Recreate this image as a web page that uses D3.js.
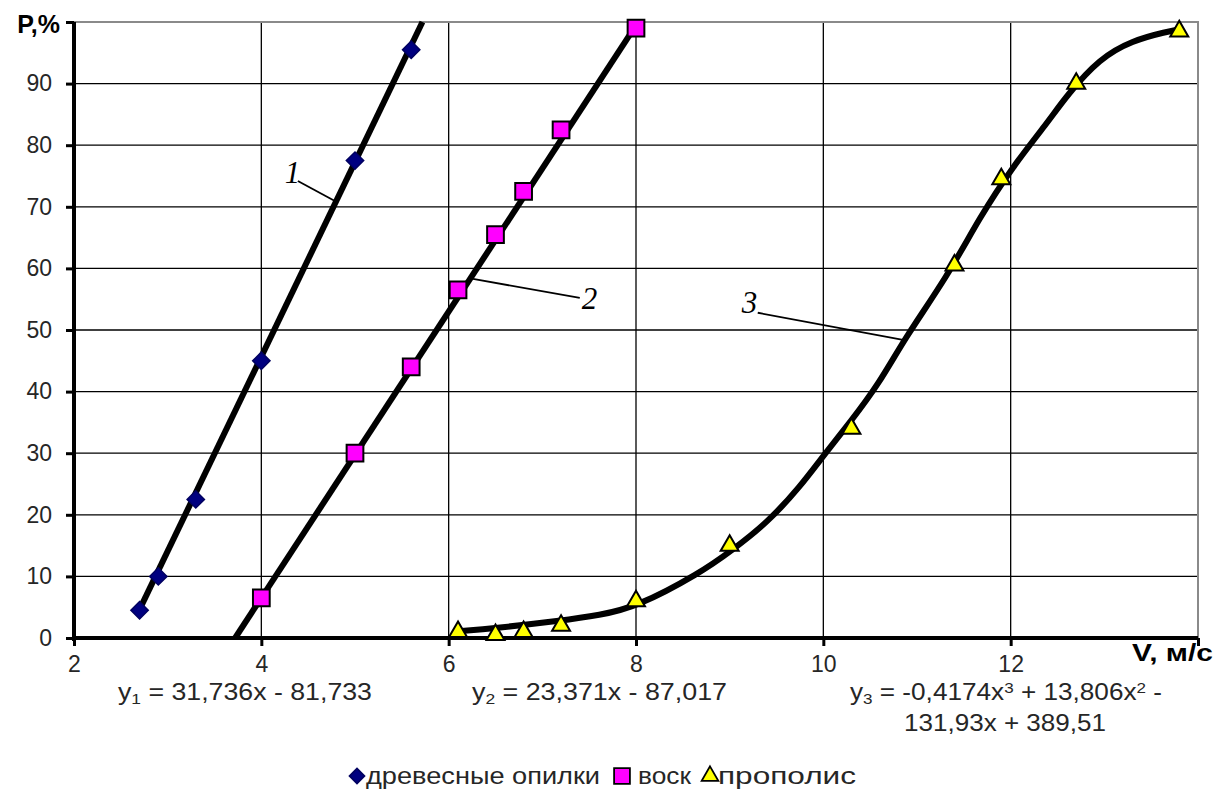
<!DOCTYPE html>
<html>
<head>
<meta charset="utf-8">
<script src="https://cdn.jsdelivr.net/npm/d3@7"></script>
<style>
  body { margin: 0; background: #fff; }
  svg { font-family: "Liberation Sans", Arial, sans-serif; }
</style>
</head>
<body>
<svg id="chart" width="1216" height="792"></svg>
<script>
// data
const sawdustX = [2.7, 2.9, 3.3, 4.0, 5.0, 5.6];
const sawdustY = [4.5, 10, 22.5, 45, 77.5, 95.5];
const waxX = [4.0, 5.0, 5.6, 6.1, 6.5, 6.8, 7.2, 8.0];
const waxY = [6.5, 30, 44, 56.5, 65.5, 72.5, 82.5, 99];
const propolisX = [6.1, 6.5, 6.8, 7.2, 8.0, 9.0, 10.3, 11.4, 11.9, 12.7, 13.8];
const propolisY = [1, 0.5, 1, 2, 6, 15, 34, 60.5, 74.5, 90, 98.5];

// trend lines as drawn in the picture
const trend1X = [2.68, 5.72];
const trend1Y = [4, 100];
const trend2X = [3.72, 7.98];
const trend2Y = [0, 99];
const trend3X = [6.1, 6.5, 7.2, 7.61, 8.0, 8.68, 9.03, 9.4, 9.75, 10.02, 10.28, 10.6, 10.87, 11.32, 11.67, 12.02, 12.39, 12.6, 12.95, 13.3, 13.66, 13.83];
const trend3Y = [1.1, 1.6, 2.8, 3.7, 5.0, 10.5, 14.3, 18.7, 24.5, 30, 34.9, 41.4, 48.7, 58.6, 68.3, 76.5, 83.6, 88.1, 94.1, 97, 98.4, 98.9];

const xTicks = [2, 4, 6, 8, 10, 12, 14];
const yTicks = [0, 10, 20, 30, 40, 50, 60, 70, 80, 90, 100];
const legendNames = ["древесные опилки", "воск", "прополис"];

const svg = d3.select("#chart");
const mLeft = 74, mRight = 1198, mTop = 22, mBottom = 638;

const x = d3.scaleLinear().domain([2, 14]).range([mLeft, mRight]);
const y = d3.scaleLinear().domain([0, 100]).range([mBottom, mTop]);

// grid
svg.append("g").selectAll("line")
    .data(xTicks.slice(1, -1))
    .enter().append("line")
    .attr("x1", d => x(d)).attr("x2", d => x(d))
    .attr("y1", mTop).attr("y2", mBottom)
    .attr("stroke", "#000").attr("stroke-width", 1.3);

svg.append("g").selectAll("line")
    .data(yTicks.slice(1, -1))
    .enter().append("line")
    .attr("x1", mLeft).attr("x2", mRight)
    .attr("y1", d => y(d)).attr("y2", d => y(d))
    .attr("stroke", "#000").attr("stroke-width", 1.3);

// top and right frame, grey
svg.append("path")
    .attr("d", `M${mLeft},${mTop}H${mRight}V${mBottom}`)
    .attr("fill", "none").attr("stroke", "#8a8a8a").attr("stroke-width", 2);

// axes
const xAxis = svg.append("g")
    .attr("transform", `translate(0,${mBottom})`)
    .call(d3.axisBottom(x).tickValues(xTicks).tickSize(8).tickPadding(10)
        .tickFormat(d => d === 14 ? "" : d));
const yAxis = svg.append("g")
    .attr("transform", `translate(${mLeft},0)`)
    .call(d3.axisLeft(y).tickValues(yTicks).tickSize(8).tickPadding(14)
        .tickFormat(d => d === 100 ? "" : d));

[xAxis, yAxis].forEach(g => {
    g.select(".domain").attr("stroke", "#000").attr("stroke-width", 4);
    g.selectAll(".tick line").attr("stroke", "#000").attr("stroke-width", 3);
    g.selectAll(".tick text").attr("font-size", 23).attr("fill", "#262626")
        .attr("font-family", "Liberation Sans, Arial, sans-serif");
});
yAxis.select(".domain").attr("d", `M0,${mTop}V${mBottom + 3}`);
xAxis.select(".domain").attr("d", `M${mLeft - 2},0H${mRight}`);

// axis titles
svg.append("text")
    .attr("x", 60).attr("y", 33)
    .attr("text-anchor", "end")
    .attr("font-size", 25).attr("font-weight", "bold")
    .text("P,%");
svg.append("text")
    .attr("x", 1132).attr("y", 661)
    .attr("font-size", 24).attr("font-weight", "bold")
    .attr("textLength", 81).attr("lengthAdjust", "spacingAndGlyphs")
    .text("V, м/с");

// trend lines
const line = d3.line().x(d => x(d[0])).y(d => y(d[1]));
const zip = (a, b) => a.map((v, i) => [v, b[i]]);

svg.append("path").datum(zip(trend1X, trend1Y))
    .attr("d", line).attr("fill", "none").attr("stroke", "#000").attr("stroke-width", 6);
svg.append("path").datum(zip(trend2X, trend2Y))
    .attr("d", line).attr("fill", "none").attr("stroke", "#000").attr("stroke-width", 6);
svg.append("path").datum(zip(trend3X, trend3Y))
    .attr("d", line.curve(d3.curveBasis)).attr("fill", "none")
    .attr("stroke", "#000").attr("stroke-width", 6);

// markers
const diamond = d3.symbol().type(d3.symbolSquare).size(150);
const square = d3.symbol().type(d3.symbolSquare).size(280);
const triangle = d3.symbol().type(d3.symbolTriangle).size(140);

svg.append("g").selectAll("path")
    .data(zip(sawdustX, sawdustY))
    .enter().append("path")
    .attr("d", diamond)
    .attr("transform", d => `translate(${x(d[0])},${y(d[1])}) rotate(45)`)
    .attr("fill", "#000080").attr("stroke", "#000060").attr("stroke-width", 1.5);

svg.append("g").selectAll("path")
    .data(zip(waxX, waxY))
    .enter().append("path")
    .attr("d", square)
    .attr("transform", d => `translate(${x(d[0])},${y(d[1])})`)
    .attr("fill", "#ff00ff").attr("stroke", "#000").attr("stroke-width", 2);

svg.append("g").selectAll("path")
    .data(zip(propolisX, propolisY))
    .enter().append("path")
    .attr("d", triangle)
    .attr("transform", d => `translate(${x(d[0])},${y(d[1])})`)
    .attr("fill", "#ffff00").attr("stroke", "#000").attr("stroke-width", 2);

// curve labels with leader lines
const labels = [
    { t: "1", tx: 4.25, ty: 73.9, x1: 4.39, y1: 74.2, x2: 4.79, y2: 70.9 },
    { t: "2", tx: 7.42, ty: 53.4, x1: 7.40, y1: 55.2, x2: 6.26, y2: 58.3 },
    { t: "3", tx: 9.13, ty: 52.8, x1: 9.30, y1: 52.8, x2: 10.85, y2: 48.4 }
];
labels.forEach(l => {
    svg.append("line")
        .attr("x1", x(l.x1)).attr("y1", y(l.y1))
        .attr("x2", x(l.x2)).attr("y2", y(l.y2))
        .attr("stroke", "#000").attr("stroke-width", 1.8);
    svg.append("text")
        .attr("x", x(l.tx)).attr("y", y(l.ty))
        .attr("font-family", "Liberation Serif, Times New Roman, serif")
        .attr("font-style", "italic").attr("font-size", 31)
        .text(l.t);
});

// equations
function equation(sx, sy, width, parts) {
    const t = svg.append("text")
        .attr("x", sx).attr("y", sy)
        .attr("font-size", 23).attr("fill", "#262626");
    if (width) t.attr("textLength", width).attr("lengthAdjust", "spacingAndGlyphs");
    parts.forEach(p => {
        const s = t.append("tspan").text(p[0]);
        if (p[1] === "sub") s.attr("font-size", 15).attr("baseline-shift", "-25%");
        if (p[1] === "sup") s.attr("font-size", 15).attr("baseline-shift", "45%");
    });
}
equation(118, 700, 254, [["y"], ["1", "sub"], [" = 31,736x - 81,733"]]);
equation(472, 700, 255, [["y"], ["2", "sub"], [" = 23,371x - 87,017"]]);
equation(850, 700, 312, [["y"], ["3", "sub"], [" = -0,4174x"], ["3", "sup"], [" + 13,806x"], ["2", "sup"], [" -"]]);
equation(904, 731, 202, [["131,93x + 389,51"]]);

// legend
const legend = svg.append("g").attr("transform", "translate(0,784)");
const legendItems = [
    { name: legendNames[0], sym: d3.symbol().type(d3.symbolSquare).size(110), fill: "#000080", stroke: "#000060", rot: 45, sx: 357, tx: 366, w: 234 },
    { name: legendNames[1], sym: d3.symbol().type(d3.symbolSquare).size(250), fill: "#ff00ff", stroke: "#000", rot: 0, sx: 622, tx: 638, w: 53 },
    { name: legendNames[2], sym: d3.symbol().type(d3.symbolTriangle).size(120), fill: "#ffff00", stroke: "#000", rot: 0, sx: 710, tx: 718, w: 138 }
];
legendItems.forEach(item => {
    legend.append("path")
        .attr("d", item.sym)
        .attr("transform", `translate(${item.sx},-8) rotate(${item.rot})`)
        .attr("fill", item.fill).attr("stroke", item.stroke).attr("stroke-width", 1.8);
    legend.append("text")
        .attr("x", item.tx).attr("y", 0)
        .attr("font-size", 23).attr("fill", "#262626")
        .attr("textLength", item.w).attr("lengthAdjust", "spacingAndGlyphs")
        .text(item.name);
});
</script>
</body>
</html>
